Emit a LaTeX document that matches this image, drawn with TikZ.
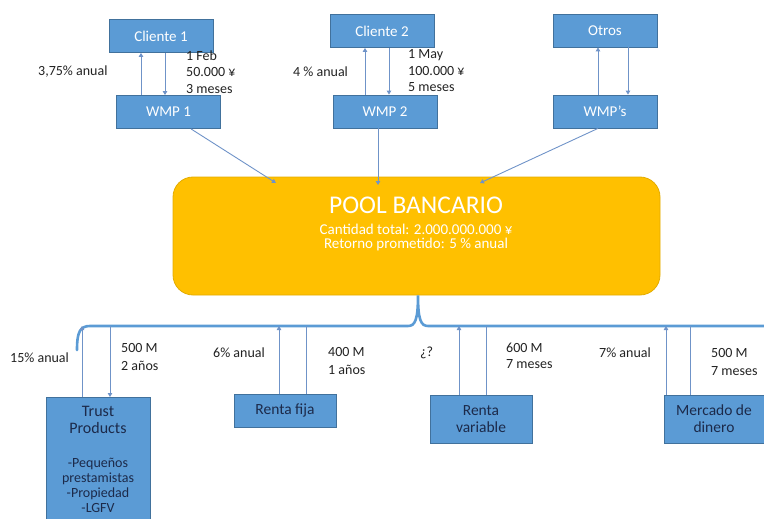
\documentclass[tikz,border=0pt]{standalone}
\usepackage{fontspec}
\setmainfont{Carlito}
\usetikzlibrary{arrows.meta}
\definecolor{boxblue}{HTML}{5B9BD5}
\definecolor{boxedge}{HTML}{41719C}
\definecolor{linkblue}{HTML}{6F93C8}
\definecolor{bracecol}{HTML}{5B9BD5}
\definecolor{poolfill}{HTML}{FFC000}
\definecolor{pooledge}{HTML}{E3AC00}
\definecolor{navytext}{HTML}{1C2A4A}
\definecolor{labeltext}{HTML}{222222}
\tikzset{
  topbox/.style={draw=boxedge, fill=boxblue, line width=0.8pt, minimum width=104pt,
    minimum height=33pt, inner sep=0pt, text=white, font=\fontsize{15}{17}\selectfont},
  lowbox/.style={draw=boxedge, fill=boxblue, line width=0.8pt, inner sep=0pt,
    text=navytext, align=center, font=\fontsize{15.5}{17}\selectfont},
  link/.style={draw=linkblue, line width=0.9pt},
  tip/.style={link, -{Triangle[width=4.5pt,length=4pt]}},
  lbl/.style={text=labeltext, font=\fontsize{14}{16.5}\selectfont, inner sep=0pt, align=left},
  lbllow/.style={lbl, font=\fontsize{14}{18}\selectfont},
}
\begin{document}
\begin{tikzpicture}[x=1pt, y=-1pt]
\useasboundingbox (0,0) rectangle (764,519);

% clients and wealth-management products
\node[topbox] (c1) at (161,36) {Cliente 1};
\node[topbox] (w1) at (168.5,112) {WMP 1};
\node[topbox] (c2) at (382,31) {Cliente 2};
\node[topbox] (w2) at (385,111.5) {WMP 2};
\node[topbox] (ot) at (605,30.5) {Otros};
\node[topbox] (ws) at (605,111.5) {WMP’s};

% bank pool
\node[draw=pooledge, fill=poolfill, rounded corners=20pt, line width=0.8pt,
      minimum width=487pt, minimum height=118pt] (pool) at (416.5,236) {};
\node[text=white, font=\fontsize{25.5}{28}\selectfont, inner sep=0pt] (pt) at (416,205) {POOL BANCARIO};
\node[text=white, font=\fontsize{15}{16}\selectfont, inner sep=0pt] (pd1) at (416,229) {Cantidad total: 2.000.000.000 ¥};
\node[text=white, font=\fontsize{15}{16}\selectfont, inner sep=0pt] (pd2) at (416,245) {Retorno prometido: 5 \% anual};

% investment destinations
\node[lowbox, minimum width=104pt, minimum height=136pt, anchor=north] (tp) at (98,397) {};
\node[text=navytext, align=center, inner sep=0pt, font=\fontsize{16}{17}\selectfont] (tpt) at (98,420) {Trust\\Products};
\node[text=navytext, align=center, inner sep=0pt, font=\fontsize{14}{15}\selectfont] (tpl) at (98,485) {-Pequeños\\prestamistas\\-Propiedad\\-LGFV};
\node[lowbox, minimum width=102pt, minimum height=33pt] (rf) at (285,410.5) {Renta fija};
\node[lowbox, minimum width=102pt, minimum height=48pt] (rv) at (481,419) {Renta\\variable};
\node[lowbox, minimum width=100pt, minimum height=48pt] (md) at (714,419) {Mercado de\\dinero};

% client <-> WMP flows
\draw[tip] (w1.north -| 141,0) -- (c1.south -| 141,0);
\draw[tip] (c1.south -| 165,0) -- (w1.north -| 165,0);
\draw[tip] (w2.north -| 365,0) -- (c2.south -| 365,0);
\draw[tip] (c2.south -| 389,0) -- (w2.north -| 389,0);
\draw[tip] (ws.north -| 598,0) -- (ot.south -| 598,0);
\draw[tip] (ot.south -| 628,0) -- (ws.north -| 628,0);

% WMPs feeding the pool
\draw[tip] (w1.south -| 191,0) -- (276,183);
\draw[tip] (w2.south -| 378,0) -- (378,185);
\draw[tip] (ws.south -| 598,0) -- (480,183);

% distribution brace under the pool
\coordinate (bl) at (0,326);
\draw[bracecol, line width=2.6pt, line cap=round]
  (77,350) .. controls (77,332) and (80,326) .. (90,326)
  -- (408,326) .. controls (415,326) and (418,320) .. (pool.south -| 418,0)
  .. controls (418,320) and (421,326) .. (428,326) -- (770,326);

% flows between pool and destinations
\draw[tip] (tp.north -| 82,0) -- (bl -| 82,0);
\draw[tip] (bl -| 110,0) -- (tp.north -| 110,0);
\draw[tip] (rf.north -| 279,0) -- (bl -| 279,0);
\draw[link] (bl -| 306,0) -- (rf.north -| 306,0);
\draw[tip] (rv.north -| 459,0) -- (bl -| 459,0);
\draw[link] (bl -| 486,0) -- (rv.north -| 486,0);
\draw[tip] (md.north -| 666,0) -- (bl -| 666,0);
\draw[link] (bl -| 690,0) -- (md.north -| 690,0);

% labels
\node[lbl, anchor=west] (l1) at (38,72) {3,75\% anual};
\node[lbl, anchor=north west] (l2) at (186,50.5) {1 Feb\\50.000 ¥\\3 meses};
\node[lbl, anchor=west] (l3) at (293,72) {4 \% anual};
\node[lbl, anchor=north west] (l4) at (408,49.5) {1 May\\100.000 ¥\\5 meses};
\node[lbl, anchor=west] (l5) at (10,358) {15\% anual};
\node[lbllow, anchor=north west] (l6) at (121,343.5) {500 M\\2 años};
\node[lbl, anchor=west] (l7) at (213,353) {6\% anual};
\node[lbllow, anchor=north west] (l8) at (328,347.5) {400 M\\1 años};
\node[lbl, anchor=west] (l9) at (420,353) {¿?};
\node[lbl, anchor=north west] (l10) at (506,342.5) {600 M\\7 meses};
\node[lbl, anchor=west] (l11) at (599,353) {7\% anual};
\node[lbllow, anchor=north west] (l12) at (711,348.5) {500 M\\7 meses};
\end{tikzpicture}
\end{document}
